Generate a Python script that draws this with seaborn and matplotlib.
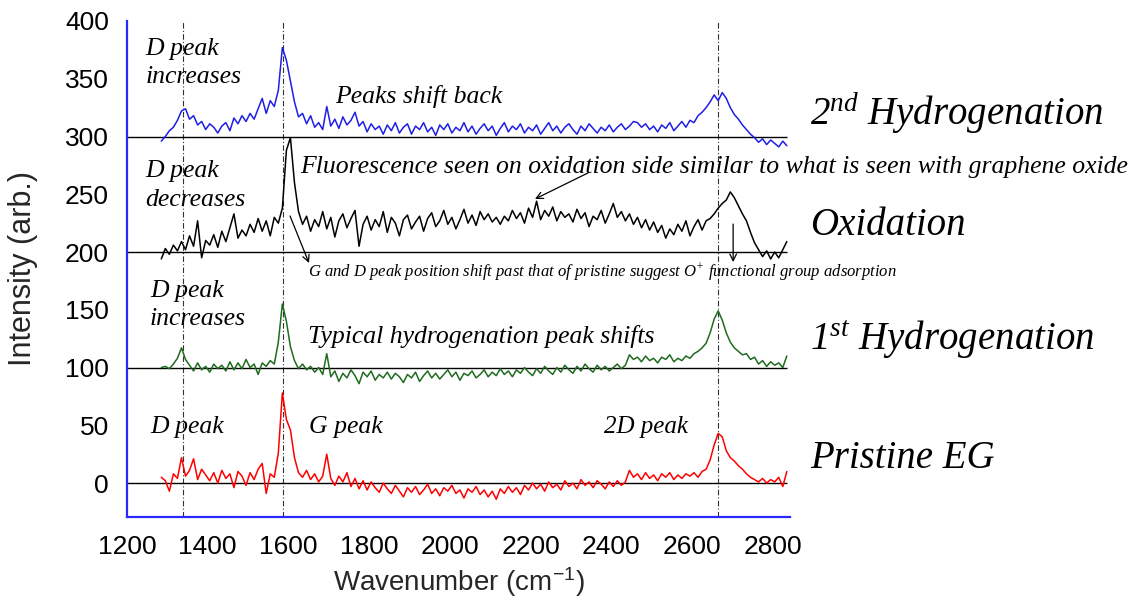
import numpy as np
import pandas as pd
import matplotlib.pyplot as plt
import seaborn as sns

# wavenumber grid (cm-1), one reading every 10 cm-1
wavenumber = np.arange(1285, 2845, 10)

# readings relative to each trace's own baseline
pristine = [
    5, 2, -7, 8, 4, 22, 6, 11, 21, 3, 12, 7, 2, 9, 0, 11, 4, 8, -4, 10,
    6, -2, 9, 3, 12, 17, -9, 8, 5, 26, 78, 55, 46, 22, 9, 5, 11, 3, 8, 1,
    6, 25, 4, -2, 6, 1, 9, -3, 4, -5, 2, -6, 1, -4, -8, 0, -5, -9, -2, -7,
    -12, -4, -8, -3, -10, -6, -1, -9, -5, -11, -4, -7, -2, -9, -6, -13, -5, -8, -3, -10,
    -6, -12, -7, -14, -5, -9, -3, -8, -4, -10, -2, -6, 0, -5, -1, -7, 1, -4, -1, -6,
    2, -3, 0, -5, 3, -2, 1, -4, 2, -1, -5, 1, -3, 2, -2, 1, 11, 5, 8, 3,
    9, 4, 7, 2, 8, 5, 9, 3, 7, 4, 8, 6, 9, 5, 10, 12, 20, 33, 43, 40,
    28, 22, 19, 15, 12, 8, 5, 3, 1, 4, 0, 3, 1, 5, -3, 10,
]
hydro_1 = [
    0, 1, -1, 3, 8, 17, 7, 2, -3, 4, -2, 1, -4, 3, -1, 2, -3, 5, -2, 4,
    -1, 7, 0, 3, -6, 4, 1, 6, 3, 22, 55, 40, 18, 6, -1, 3, -2, 1, -4, 0,
    -6, 12, -8, -3, -12, -5, -9, -2, -7, -14, -4, -8, -3, -11, -6, -9, -4, -10, -5, -8,
    -13, -6, -9, -4, -12, -7, -3, -9, -5, -10, -6, -2, -8, -4, -11, -5, -7, -3, -9, -6,
    -2, -8, -4, -7, -1, -6, -3, -8, -2, -5, 0, -4, -7, -1, -5, 1, -3, -6, 0, -4,
    2, -2, -5, 1, -3, 3, -1, -4, 2, -2, 1, -3, 0, 3, -1, 2, 11, 7, 9, 5,
    10, 6, 8, 4, 9, 7, 11, 5, 8, 6, 10, 8, 12, 14, 17, 21, 30, 42, 49, 41,
    30, 22, 17, 14, 11, 12, 7, 9, 3, 6, 1, 5, 2, 4, 0, 10,
]
oxidation = [
    -6, 3, -2, 6, 1, 9, 2, 14, 5, 27, -5, 10, 6, 15, 4, 18, 9, 21, 33, 12,
    19, 14, 24, 17, 29, 18, 27, 14, 30, 25, 38, 88, 99, 60, 35, 24, 31, 18, 28, 22,
    35, 20, 30, 13, 27, 33, 21, 29, 36, 5, 24, 31, 19, 28, 22, 35, 17, 30, 25, 14,
    28, 32, 20, 26, 31, 18, 29, 34, 22, 27, 36, 24, 30, 20, 28, 37, 25, 32, 23, 35,
    28, 33, 26, 30, 24, 31, 27, 36, 29, 34, 25, 38, 30, 44, 28, 36, 31, 39, 27, 35,
    30, 33, 26, 37, 29, 34, 22, 31, 28, 36, 25, 33, 42, 30, 35, 27, 33, 24, 30, 21,
    28, 19, 26, 17, 23, 12, 20, 15, 24, 18, 27, 14, 22, 28, 19, 27, 29, 33, 38, 42,
    45, 52, 47, 40, 33, 27, 17, 8, 2, -4, 1, -6, 0, -5, 2, 9,
]
hydro_2 = [
    -4, 0, 5, 8, 14, 22, 24, 15, 18, 10, 13, 6, 11, 8, 3, 9, 12, 5, 16, 11,
    18, 13, 20, 15, 24, 33, 20, 31, 26, 40, 77, 66, 48, 30, 17, 20, 11, 18, 8, 12,
    6, 26, 9, 15, 7, 17, 10, 14, 21, 9, 13, 4, 11, 6, 9, 2, 10, 5, 12, 3,
    8, 11, 2, 9, 6, 12, 4, 8, 1, 10, 6, 11, 3, 8, 5, 12, 4, 9, 2, 7,
    11, 5, 9, 1, 7, 12, 4, 9, 6, 11, 3, 8, 5, 10, 2, 7, 12, 5, 9, 3,
    8, 11, 6, 2, 9, 5, 11, 7, 3, 8, 5, 10, 4, 8, 11, 6, 9, 13, 12, 8,
    11, 6, 9, 4, 10, 7, 12, 5, 9, 13, 8, 14, 12, 18, 21, 25, 30, 36, 31, 38,
    33, 25, 19, 15, 10, 6, 2, -1, -5, -2, -7, -3, -6, -9, -4, -8,
]

trace_names = ["Pristine EG", "1st Hydrogenation", "Oxidation", "2nd Hydrogenation"]
trace_values = [pristine, hydro_1, oxidation, hydro_2]
offsets = [0, 100, 200, 300]
colors = ["#ff0000", "#1f6b1f", "#000000", "#1e1ee6"]
peak_lines = [1339, 1587, 2665]

sns.set_theme(style="white")
plt.rcParams.update({
    "font.family": ["Liberation Sans", "DejaVu Sans"],
    "mathtext.default": "regular",
})

frames = []
for name, vals, off in zip(trace_names, trace_values, offsets):
    frames.append(pd.DataFrame({
        "Wavenumber": wavenumber,
        "Intensity": np.asarray(vals) + off,
        "Trace": name,
    }))
df = pd.concat(frames, ignore_index=True)

fig = plt.figure(figsize=(11.43, 6.03), dpi=100)
ax = fig.add_axes([0.1111, 0.1426, 0.5801, 0.8226])

sns.lineplot(data=df, x="Wavenumber", y="Intensity", hue="Trace",
             palette=dict(zip(trace_names, colors)), linewidth=1.1,
             legend=False, ax=ax, zorder=3)

ax.hlines(offsets, 1200, 2836, color="black", linewidth=1.0, zorder=2)
for w in peak_lines:
    ax.axvline(w, color="#333333", linewidth=0.8, linestyle=(0, (5, 2, 1, 2)), zorder=1)

ax.set_xlim(1200, 2843)
ax.set_ylim(-29.4, 400)
ax.set_xticks(range(1200, 2801, 200))
ax.set_yticks(range(0, 401, 50))

for side in ["top", "right"]:
    ax.spines[side].set_visible(False)
for side in ["left", "bottom"]:
    ax.spines[side].set_color("#2a2aff")
    ax.spines[side].set_linewidth(1.6)
ax.tick_params(axis="both", direction="in", length=10, width=1.4,
               color="#2a2aff", labelsize=19, labelcolor="black", pad=13)
ax.xaxis.get_major_ticks()[0].tick1line.set_visible(False)

ax.set_xlabel("Wavenumber (cm$^{-1}$)", fontsize=20)
ax.set_ylabel("Intensity (arb.)", fontsize=22)
ax.xaxis.set_label_coords(0.5, -0.097)
ax.yaxis.set_label_coords(-0.134, 0.5)

serif = dict(family=["Liberation Serif", "DejaVu Serif"], style="italic", color="black")
notes = [
    (1245, 370.6, "D peak", 18.5),
    (1245, 346.3, "increases", 18.5),
    (1715, 328.9, "Peaks shift back", 18.5),
    (1245, 265.2, "D peak", 18.5),
    (1245, 239.8, "decreases", 18.5),
    (1629, 268.4, "Fluorescence seen on oxidation side similar to what is seen with graphene oxide", 18.5),
    (1649, 178.6, "G and D peak position shift past that of pristine suggest O$^{+}$ functional group adsorption", 12),
    (1257, 161.3, "D peak", 18.5),
    (1257, 136.8, "increases", 18.5),
    (1649, 121.0, "Typical hydrogenation peak shifts", 18.5),
    (1257, 43.0, "D peak", 18.5),
    (1651, 43.0, "G peak", 18.5),
    (2382, 43.0, "2D peak", 18),
]
for x, y, s, size in notes:
    ax.text(x, y, s, fontsize=size, ha="left", va="baseline", **serif)

labels = [
    (2893, 310.0, "2$^{nd}$ Hydrogenation"),
    (2893, 214.7, "Oxidation"),
    (2893, 115.0, "1$^{st}$ Hydrogenation"),
    (2893, 13.0, "Pristine EG"),
]
for x, y, s in labels:
    ax.text(x, y, s, fontsize=28, ha="left", va="baseline", clip_on=False, **serif)

arrow = dict(arrowstyle="->", color="black", lw=0.9, shrinkA=0, shrinkB=0)
ax.annotate("", xy=(2211, 245.9), xytext=(2342, 268.4), arrowprops=arrow)
ax.annotate("", xy=(1651, 190.5), xytext=(1604, 231.2), arrowprops=arrow)
ax.annotate("", xy=(2702, 191.3), xytext=(2702, 224.2), arrowprops=arrow)

fig.savefig("out.png", dpi=100)
